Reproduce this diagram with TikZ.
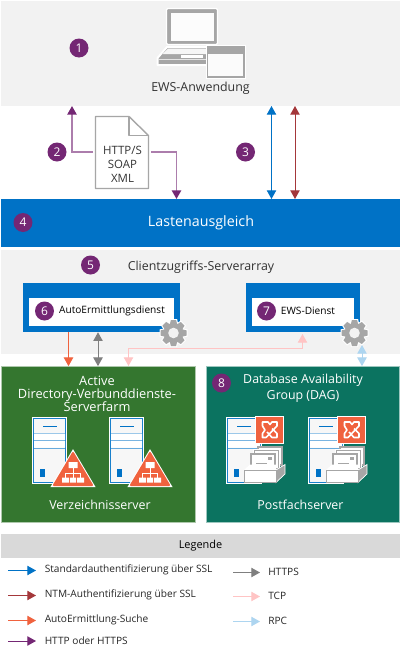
\documentclass[tikz,border=0pt]{standalone}
\usepackage{fontspec}
\setmainfont{Open Sans}
\usetikzlibrary{arrows.meta}
\newcommand{\px}{0.75pt}
\definecolor{msblue}{HTML}{0072C6}
\definecolor{msred}{HTML}{A4373A}
\definecolor{msorange}{HTML}{F0623E}
\definecolor{mspurple}{HTML}{742774}
\definecolor{msgray}{HTML}{7F7F7F}
\definecolor{mspink}{HTML}{FFC4C4}
\definecolor{mssky}{HTML}{ADD5F0}
\definecolor{mspale}{HTML}{F2F2F2}
\definecolor{iconGray}{HTML}{A6A6A6}
\definecolor{farmGreen}{HTML}{34762F}
\definecolor{dagTeal}{HTML}{0B7360}
\tikzset{
	badge/.style={circle,fill=mspurple,text=white,minimum size=19*\px,inner sep=0,font=\fontsize{9}{9}\selectfont},
	band/.style={inner sep=0,outer sep=0,minimum width=399*\px},
	label/.style={inner sep=0,font=\fontsize{9.3}{11}\selectfont,text=black!80,align=center},
	wlabel/.style={label,text=white},
	legtext/.style={inner sep=0,anchor=west,font=\fontsize{7.6}{9}\selectfont,text=black!85},
	link/.style={line width=\px,-{Triangle[width=7pt,length=6.5pt]}},
	dlink/.style={line width=\px,{Triangle[width=7pt,length=6.5pt]}-{Triangle[width=7pt,length=6.5pt]}},
	plink/.style={line width=1.5*\px,draw=mspurple!60,-{Triangle[width=7pt,length=6.5pt,color=mspurple]}}
}
\newcommand{\gearicon}[2]{
	\begin{scope}[shift={(#1,#2)}]
		\foreach \a in {0,45,...,315}
		{
			\fill[white,rotate=\a] (-3.6,-14) -- (3.6,-14) -- (4.8,-8) -- (-4.8,-8) -- cycle;
		}
		\fill[white] (0,0) circle (11);
		\foreach \a in {0,45,...,315}
		{
			\fill[iconGray,rotate=\a] (-2.6,-13) -- (2.6,-13) -- (3.8,-8) -- (-3.8,-8) -- cycle;
		}
		\fill[iconGray] (0,0) circle (9.8);
		\fill[mspale] (0,0) circle (5.3);
	\end{scope}
}
\newcommand{\servericon}[2]{
	\begin{scope}[shift={(#1,418)}]
		\draw[white,line width=2.2*\px,fill=white] (0,0) rectangle (#2,65);
		\draw[msblue!90,line width=1.3*\px,fill=mspale!60] (0.5,0.5) rectangle (#2-0.5,64.5);
		\draw[msblue!60,line width=\px] (1,15) -- (#2-1,15) (1,22.5) -- (#2-1,22.5) (1,30) -- (#2-1,30);
		\fill[white] (1,15.5) rectangle (#2-1,22) (1,23) rectangle (#2-1,29.5);
		\draw[msblue,line width=\px] (10,8) -- (24,8);
		\fill[msblue] (6.5,51) rectangle (11.5,59);
	\end{scope}
}
\newcommand{\adicon}[1]{
	\begin{scope}[shift={(#1,0)}]
		\draw[msorange,fill=msorange,line width=2*\px,line join=round,preaction={draw=white,line width=4*\px}] (73,453) -- (92,485) -- (54,485) -- cycle;
		\fill[white] (68.5,462) rectangle (77.5,468) (62,477.5) rectangle (69,482.5) (70,477.5) rectangle (76,482.5) (77,477.5) rectangle (84,482.5);
		\draw[white,line width=.8*\px] (73,468) -- (73,477.5) (65.5,477.5) -- (65.5,473) -- (80.5,473) -- (80.5,477.5);
	\end{scope}
}
\newcommand{\dagicon}[1]{
	\begin{scope}[shift={(#1,0)}]
		\fill[msorange,draw=white,line width=\px] (255.5,416) rectangle (283.5,443.5);
		\draw[white,line width=1.6*\px,line join=round] (262.5,422) -- (268,422) -- (270,424.5) -- (272,422) -- (277,422) -- (277,426) -- (266,437.5) -- (262.5,437.5) -- (262.5,433.5) -- (265,430) -- (262.5,426) -- cycle;
		\draw[white,line width=1.6*\px,line join=round] (277,437.5) -- (272,437.5) -- (267,432) (277,437.5) -- (277,433.5) -- (272,428.5);
		\foreach \d in {7,3.5,0}
		{
			\draw[iconGray,fill=white,line width=1.2*\px,preaction={draw=white,line width=2.5*\px}] (251+\d,454-\d) rectangle (275+\d,472-\d);
		}
		\draw[iconGray,line width=\px] (256,463) -- (267,463);
		\fill[iconGray] (268,457) rectangle (272,459.5);
		\fill[iconGray,draw=white,line width=.7*\px] (276,470) -- (285,464.5) -- (285,474) -- (276,482.5) -- cycle;
		\fill[white] (244,470) -- (250,464.5) -- (251,464.5) -- (276,464.5) -- (276,470) -- cycle;
		\draw[iconGray,fill=white,line width=1.2*\px] (244.5,470.5) rectangle (276.5,482.5);
	\end{scope}
}
\begin{document}
\begin{tikzpicture}[x=\px,y=-\px]
	\useasboundingbox (0,0) rectangle (400,657);
	\fill[white] (0,0) rectangle (400,657);
	\node (app) at (200.5,53.5) [band,fill=mspale,minimum height=105*\px] {};
	\node (lb) at (200.5,223) [band,fill=msblue,minimum height=48*\px] {};
	\node (cas) at (200.5,302) [band,fill=mspale,minimum height=104*\px] {};
	\node (autobox) at (101.5,307.5) [inner sep=0,fill=msblue,minimum width=157*\px,minimum height=49*\px] {};
	\node (ewsbox) at (303,307.5) [inner sep=0,fill=msblue,minimum width=114*\px,minimum height=49*\px] {};
	\node (autoin) at (101.5,312) [inner sep=0,fill=white,minimum width=145*\px,minimum height=28*\px] {};
	\node (ewsin) at (303,312) [inner sep=0,fill=white,minimum width=102*\px,minimum height=28*\px] {};
	\node (farm) at (98,444.5) [inner sep=0,fill=farmGreen,draw=white!60!farmGreen,line width=.7*\px,minimum width=194*\px,minimum height=156*\px] {};
	\node (dag) at (303.25,444.5) [inner sep=0,fill=dagTeal,draw=white!60!dagTeal,line width=.7*\px,minimum width=193*\px,minimum height=156*\px] {};
	\node (legbar) at (200.5,546) [band,fill=black!15,minimum height=24*\px] {};
	% laptop
	\draw[white,line width=1.2*\px,fill=iconGray,rounded corners=1pt] (166.5,8.5) rectangle (217.5,44.5);
	\fill[white!97!iconGray] (170.5,13) rectangle (213.5,41);
	\draw[white,line width=2*\px,fill=iconGray,line join=round] (167,47) -- (208,47) -- (208,65) -- (157.5,65) -- (157.5,58) -- cycle;
	\fill[white!90!iconGray] (168,48.5) -- (208,48.5) -- (208,54) -- (162.5,54) -- cycle;
	\fill[white] (181,55) rectangle (203,57.5);
	\fill[white!70!iconGray] (157.5,59) rectangle (208,60);
	\draw[white,line width=\px,fill=white] (206.5,45.5) rectangle (245,78);
	\draw[iconGray,line width=1.2*\px,fill=white!96!iconGray] (207.5,46.5) rectangle (244,77);
	\fill[iconGray] (207.5,46.5) rectangle (244,53.5);
	\node (appname) at (200.5,88.5) [label] {EWS-Anwendung};
	% document
	\draw[iconGray,line width=1.4*\px,line join=round,fill=white] (95.5,116.5) -- (129,116.5) -- (148.5,135.5) -- (148.5,188.5) -- (95.5,188.5) -- cycle;
	\draw[iconGray,line width=1.4*\px,line join=round] (129,116.5) -- (129,135.5) -- (148.5,135.5);
	\node (doc) at (122.5,164) [label,text width=50*\px,font=\fontsize{8.6}{10.6}\selectfont] {HTTP/S\\SOAP\\XML};
	\coordinate (docL) at (93,152);
	\coordinate (docR) at (151,152);
	\coordinate (upP) at (72,106);
	\coordinate (downP) at (176.5,199);
	\coordinate (xblue) at (271.5,0);
	\coordinate (xred) at (295,0);
	\coordinate (xorange) at (68.5,0);
	\coordinate (xgray) at (98,0);
	\coordinate (xewsin) at (302.5,334);
	\coordinate (ysky) at (362,345);
	\coordinate (farmTop) at (128.5,366);
	\draw[plink] (docL) -| (upP);
	\draw[plink] (docR) -| (downP);
	\draw[dlink,msblue] (xblue |- app.south) -- (xblue |- lb.north);
	\draw[dlink,msred] (xred |- app.south) -- (xred |- lb.north);
	\draw[link,msorange] (xorange |- autobox.south) -- (xorange |- farm.north);
	\draw[dlink,msgray] (xgray |- autobox.south) -- (xgray |- farm.north);
	\draw[dlink,mspink] (farmTop) |- (128.5,348) -| (xewsin);
	\draw[dlink,mssky] (ysky) -- (ysky |- dag.north);
	\node (lbname) at (201,222.5) [wlabel,font=\fontsize{10.7}{12}\selectfont] {Lastenausgleich};
	\node (casname) at (201,267.5) [label] {Clientzugriffs-Serverarray};
	\node (autoname) at (112,311) [label,text=black,font=\fontsize{7.6}{9}\selectfont] {AutoErmittlungsdienst};
	\node (ewsname) at (308,311) [label,text=black,font=\fontsize{7.6}{9}\selectfont] {EWS-Dienst};
	\gearicon{173.5}{333}
	\gearicon{354.5}{333}
	\node (farmname) at (97,393.5) [wlabel,font=\fontsize{9.6}{9.75}\selectfont] {Active\\Directory-Verbunddienste-\\Serverfarm};
	\node (dagname) at (303,388.5) [wlabel,font=\fontsize{9.3}{12}\selectfont] {Database Availability\\Group (DAG)};
	\servericon{33}{33}
	\servericon{110}{33}
	\adicon{0}
	\adicon{77}
	\servericon{227}{34}
	\servericon{309}{34}
	\dagicon{0}
	\dagicon{82}
	\node (farmsrv) at (100,504.5) [wlabel] {Verzeichnisserver};
	\node (dagsrv) at (300.5,504.5) [wlabel] {Postfachserver};
	\node (b1) at (79,48) [badge] {1};
	\node (b2) at (57,152) [badge] {2};
	\node (b3) at (245.5,152) [badge] {3};
	\node (b4) at (23,222.5) [badge] {4};
	\node (b5) at (90.5,265) [badge] {5};
	\node (b6) at (44.5,311) [badge] {6};
	\node (b7) at (266.5,311) [badge] {7};
	\node (b8) at (221.5,383) [badge] {8};
	\node (legname) at (200.5,546) [label,text=black,font=\fontsize{8.2}{9}\selectfont] {Legende};
	% legend
	\foreach \yy/\cc/\tt/\nn in {570/msblue/Standardauthentifizierung über SSL/la,595/msred/NTM-Authentifizierung über SSL/lb2,620/msorange/AutoErmittlung-Suche/lc,640.5/mspurple/HTTP oder HTTPS/ld}
	{
		\node (\nn) at (44.5,\yy) [legtext] {\tt};
		\coordinate (\nn s) at (8,\yy+.5);
		\draw[link,\cc] (\nn s) -- (\nn s -| 36,0);
	}
	\foreach \yy/\cc/\tt/\nn in {572/msgray/HTTPS/le,596/mspink/TCP/lf,621/mssky/RPC/lg}
	{
		\node (\nn) at (268,\yy) [legtext] {\tt};
		\coordinate (\nn s) at (233,\yy+.5);
		\draw[link,\cc] (\nn s) -- (\nn s -| 260,0);
	}
\end{tikzpicture}
\end{document}
